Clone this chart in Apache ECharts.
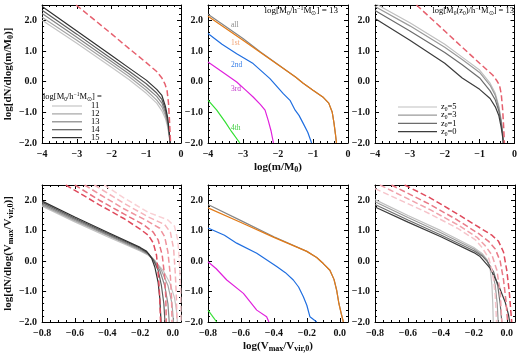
<!DOCTYPE html>
<html>
<head>
<meta charset="utf-8">
<script src="https://cdn.jsdelivr.net/npm/echarts@6/dist/echarts.min.js"></script>
<style>
  html, body { margin: 0; padding: 0; background: #fff; }
  #chart { width: 520px; height: 354px; }
</style>
</head>
<body>
<div id="chart"></div>
<script>
// ---- data ----
// top row: x = log(m/M0), y = log[dN/dlog(m/M0)]
var mfTicksX = [-4, -3, -2, -1, 0];
var vfTicksX = [-0.8, -0.6, -0.4, -0.2, 0.0];
var yTicks = [-2, -1, 0, 1, 2];

// panel 1: host masses log M0 = 11..15
var massNames = ['11', '12', '13', '14', '15'];
var mf11 = [[-4,2.0],[-3,1.25],[-2,0.47],[-1.5,0.07],[-1,-0.38],[-0.7,-0.7],[-0.55,-0.95],[-0.45,-1.2],[-0.38,-1.5],[-0.34,-1.8],[-0.31,-2.0]];
var mf12 = [[-4,2.1],[-3,1.35],[-2,0.57],[-1.5,0.17],[-1,-0.28],[-0.7,-0.6],[-0.55,-0.82],[-0.45,-1.1],[-0.38,-1.42],[-0.34,-1.75],[-0.31,-2.0]];
var mf13 = [[-4,2.22],[-3,1.45],[-2,0.66],[-1.5,0.26],[-1,-0.18],[-0.7,-0.48],[-0.55,-0.7],[-0.45,-1.0],[-0.38,-1.35],[-0.34,-1.7],[-0.31,-2.0]];
var mf14 = [[-4,2.33],[-3,1.55],[-2,0.75],[-1.5,0.35],[-1,-0.07],[-0.7,-0.37],[-0.55,-0.58],[-0.45,-0.9],[-0.38,-1.28],[-0.34,-1.65],[-0.31,-2.0]];
var mf15 = [[-4,2.45],[-3,1.65],[-2,0.85],[-1.5,0.45],[-1,0.05],[-0.7,-0.25],[-0.55,-0.45],[-0.45,-0.8],[-0.38,-1.2],[-0.34,-1.6],[-0.31,-2.0]];
var mfRed = [[-3.02,2.5],[-2,1.56],[-1.73,1.3],[-1,0.62],[-0.7,0.33],[-0.55,0.12],[-0.46,-0.08],[-0.4,-0.3],[-0.36,-0.7],[-0.33,-1.3],[-0.3,-2.0]];

// panel 2: by subhalo order, log M0 = 13
var orderNames = ['all', '1st', '2nd', '3rd', '4th'];
var mfAll = [[-4,2.2],[-3,1.41],[-2.5,0.97],[-2,0.56],[-1.5,0.15],[-1.28,-0.05],[-1,-0.28],[-0.7,-0.52],[-0.55,-0.7],[-0.45,-1.0],[-0.4,-1.35],[-0.36,-1.7],[-0.33,-2.0]];
var mf1st = [[-4,2.13],[-3,1.35],[-2.5,0.95],[-2,0.55],[-1.5,0.15],[-1.28,-0.05],[-1,-0.28],[-0.7,-0.52],[-0.55,-0.7],[-0.45,-1.0],[-0.4,-1.35],[-0.36,-1.7],[-0.33,-2.0]];
var mf2nd = [[-4,1.57],[-3.6,1.22],[-3.18,0.91],[-2.71,0.59],[-2.23,0.1],[-1.85,-0.39],[-1.65,-0.62],[-1.51,-0.93],[-1.4,-1.1],[-1.28,-1.36],[-1.15,-1.65],[-1.04,-2.0]];
var mf3rd = [[-4,0.64],[-3.66,0.37],[-3.18,-0.01],[-2.9,-0.3],[-2.71,-0.5],[-2.5,-0.75],[-2.37,-0.93],[-2.28,-1.26],[-2.2,-1.6],[-2.13,-2.0]];
var mf4th = [[-4,-0.6],[-3.75,-0.93],[-3.51,-1.31],[-3.32,-1.64],[-3.09,-2.0]];

// panel 3: formation redshift z0
var zNames = ['5', '3', '1', '0'];
var mfZ5 = [[-4,2.55],[-3,1.92],[-2,1.22],[-1.5,0.8],[-1,0.38],[-0.7,-0.05],[-0.55,-0.38],[-0.45,-0.8],[-0.38,-1.25],[-0.34,-1.7],[-0.32,-2.0]];
var mfZ3 = [[-4,2.45],[-3,1.82],[-2,1.12],[-1.5,0.72],[-1,0.3],[-0.7,-0.12],[-0.55,-0.45],[-0.45,-0.85],[-0.38,-1.3],[-0.34,-1.7],[-0.32,-2.0]];
var mfZ1 = [[-4,2.32],[-3,1.65],[-2,0.95],[-1.5,0.55],[-1,0.12],[-0.7,-0.3],[-0.55,-0.6],[-0.45,-0.95],[-0.38,-1.35],[-0.34,-1.7],[-0.32,-2.0]];
var mfZ0 = [[-4,2.06],[-3,1.35],[-2,0.6],[-1.5,0.12],[-1,-0.25],[-0.7,-0.55],[-0.55,-0.82],[-0.45,-1.1],[-0.38,-1.5],[-0.34,-1.8],[-0.32,-2.0]];
var mfZRed = [[-2.81,2.5],[-2,1.65],[-1,0.6],[-0.62,0.21],[-0.5,0.02],[-0.43,-0.12],[-0.38,-0.4],[-0.34,-0.9],[-0.31,-1.5],[-0.29,-2.0]];

// bottom row: x = log(Vmax/Vvir,0)
var vf11 = [[-0.8,1.8],[-0.6,1.29],[-0.4,0.8],[-0.2,0.33],[-0.15,0.19],[-0.11,0.0],[-0.06,-0.3],[-0.02,-0.7],[0.01,-1.2],[0.022,-1.6],[0.028,-2.0]];
var vf12 = [[-0.8,1.84],[-0.6,1.33],[-0.4,0.84],[-0.2,0.36],[-0.15,0.21],[-0.11,0.02],[-0.07,-0.3],[-0.03,-0.8],[-0.005,-1.4],[0.004,-2.0]];
var vf13 = [[-0.8,1.88],[-0.6,1.37],[-0.4,0.87],[-0.2,0.39],[-0.15,0.23],[-0.12,0.05],[-0.08,-0.3],[-0.05,-0.8],[-0.03,-1.4],[-0.022,-2.0]];
var vf14 = [[-0.8,1.93],[-0.6,1.41],[-0.4,0.91],[-0.2,0.42],[-0.15,0.25],[-0.12,0.05],[-0.09,-0.3],[-0.07,-0.8],[-0.055,-1.4],[-0.048,-2.0]];
var vf15 = [[-0.8,1.97],[-0.6,1.45],[-0.4,0.95],[-0.2,0.45],[-0.16,0.32],[-0.13,0.1],[-0.11,-0.2],[-0.09,-0.7],[-0.08,-1.2],[-0.072,-2.0]];
var vfRed15 = [[-0.655,2.5],[-0.45,1.85],[-0.3,1.4],[-0.2,1.05],[-0.15,0.85],[-0.12,0.6],[-0.1,0.2],[-0.088,-0.5],[-0.08,-1.2],[-0.075,-2.0]];
var vfRed14 = [[-0.6,2.5],[-0.45,2.0],[-0.3,1.55],[-0.18,1.2],[-0.12,0.95],[-0.09,0.7],[-0.065,0.2],[-0.05,-0.5],[-0.043,-1.2],[-0.04,-2.0]];
var vfRed13 = [[-0.54,2.5],[-0.45,2.2],[-0.3,1.72],[-0.15,1.3],[-0.08,1.08],[-0.05,0.8],[-0.03,0.3],[-0.015,-0.5],[-0.008,-1.2],[-0.005,-2.0]];
var vfRed12 = [[-0.48,2.5],[-0.3,1.9],[-0.15,1.45],[-0.05,1.2],[-0.015,0.95],[0.005,0.4],[0.015,-0.4],[0.022,-1.2],[0.025,-2.0]];
var vfRed11 = [[-0.42,2.5],[-0.3,2.08],[-0.15,1.6],[-0.03,1.35],[0.01,1.15],[0.03,0.7],[0.04,0.0],[0.048,-1.0],[0.05,-2.0]];

var vfAll = [[-0.8,1.86],[-0.6,1.33],[-0.4,0.8],[-0.2,0.32],[-0.14,0.12],[-0.1,-0.08],[-0.06,-0.3],[-0.035,-0.6],[-0.019,-0.95],[-0.005,-1.4],[0.01,-1.75],[0.022,-2.0]];
var vf1st = [[-0.8,1.75],[-0.6,1.27],[-0.4,0.78],[-0.2,0.32],[-0.14,0.12],[-0.1,-0.08],[-0.06,-0.3],[-0.035,-0.6],[-0.019,-0.95],[-0.005,-1.4],[0.01,-1.75],[0.022,-2.0]];
var vf2nd = [[-0.8,1.09],[-0.7,0.85],[-0.626,0.59],[-0.504,0.26],[-0.383,-0.18],[-0.33,-0.38],[-0.282,-0.62],[-0.25,-0.85],[-0.221,-1.17],[-0.2,-1.45],[-0.181,-1.83],[-0.14,-2.0]];
var vf3rd = [[-0.8,-0.02],[-0.75,-0.25],[-0.686,-0.62],[-0.585,-1.06],[-0.504,-1.61],[-0.444,-1.83],[-0.43,-2.0]];
var vf4th = [[-0.8,-1.61],[-0.747,-2.0]];

var vfZ5 = [[-0.8,2.02],[-0.6,1.5],[-0.4,1.0],[-0.2,0.45],[-0.15,0.25],[-0.12,0.05],[-0.1,-0.3],[-0.09,-0.8],[-0.085,-1.4],[-0.082,-2.0]];
var vfZ3 = [[-0.8,1.95],[-0.6,1.43],[-0.4,0.93],[-0.2,0.4],[-0.15,0.2],[-0.12,0.02],[-0.09,-0.3],[-0.07,-0.8],[-0.058,-1.4],[-0.052,-2.0]];
var vfZ1 = [[-0.8,1.86],[-0.6,1.35],[-0.4,0.86],[-0.2,0.34],[-0.15,0.17],[-0.12,0.0],[-0.08,-0.35],[-0.055,-0.8],[-0.04,-1.4],[-0.03,-2.0]];
var vfZ0 = [[-0.8,1.78],[-0.6,1.28],[-0.4,0.8],[-0.2,0.28],[-0.162,0.15],[-0.1,-0.24],[-0.05,-0.79],[-0.01,-1.34],[0.01,-1.75],[0.018,-2.0]];
var vfZRed0 = [[-0.62,2.5],[-0.466,2.08],[-0.3,1.55],[-0.15,1.05],[-0.09,0.85],[-0.05,0.65],[-0.02,0.3],[0.0,-0.3],[0.015,-1.0],[0.03,-2.0]];
var vfZRed1 = [[-0.7,2.5],[-0.466,1.86],[-0.3,1.35],[-0.17,0.9],[-0.11,0.65],[-0.07,0.4],[-0.04,0.0],[-0.02,-0.6],[-0.005,-1.3],[0.005,-2.0]];
var vfZRed3 = [[-0.77,2.5],[-0.466,1.69],[-0.3,1.2],[-0.18,0.78],[-0.13,0.5],[-0.09,0.2],[-0.06,-0.3],[-0.04,-1.0],[-0.03,-2.0]];
var vfZRed5 = [[-0.8,2.38],[-0.466,1.55],[-0.3,1.08],[-0.19,0.7],[-0.15,0.45],[-0.11,0.1],[-0.085,-0.4],[-0.07,-1.1],[-0.062,-2.0]];

// ---- layout / styling ----
var FONT = 'Liberation Serif';
var COL_L = [41, 208, 375];
var ROW_T = [5, 185];
var ROW_H = [138, 137];
var PANEL_W = 140;

var massGrays = ['#c4c4c4', '#a4a4a4', '#858585', '#5c5c5c', '#303030'];
var zGrays = ['#c0c0c0', '#9a9a9a', '#6c6c6c', '#3c3c3c'];
var redsV = ['#f9d0d4', '#f5b3ba', '#ef939d', '#e8707e', '#df4a5c'];
var redsVZ = ['#f6c4ca', '#f0a2ab', '#e97a87', '#df4a5c'];
var RED = '#e6606e';
var orderCols = ['#858585', '#e27a16', '#1f6ee0', '#e021dc', '#33e033'];
var orderText = ['#8a8a8a', '#f2a070', '#3a80e8', '#c030c8', '#40d040'];

function numFmt(d) {
    return function (v) {
        var s = Math.abs(v) < 1e-9 ? (0).toFixed(d) : v.toFixed(d);
        return s.replace('-', '\u2212');
    };
}

function subRich(base, weight) {
    return {
        s: { fontFamily: FONT, fontSize: base - 3, fontWeight: weight || 'normal', lineHeight: 7, verticalAlign: 'bottom', color: '#000' },
        p: { fontFamily: FONT, fontSize: base - 3, fontWeight: weight || 'normal', lineHeight: 7, verticalAlign: 'top', color: '#000' }
    };
}

var grids = [], xAxes = [], yAxes = [], series = [];

function addPanel(row, col, xmin, xmax, xint, xdec, xminor) {
    var gi = grids.length;
    grids.push({ left: COL_L[col], top: ROW_T[row], width: PANEL_W, height: ROW_H[row], containLabel: false });
    var tick = { inside: true, length: 4, lineStyle: { color: '#000', width: 1 } };
    var minor = { show: true, splitNumber: xminor, length: 2, lineStyle: { color: '#000', width: 1 } };
    var line = { show: true, onZero: false, lineStyle: { color: '#000', width: 1 } };
    xAxes.push({
        gridIndex: gi, type: 'value', position: 'bottom', min: xmin, max: xmax, interval: xint,
        axisLine: line, axisTick: tick, minorTick: minor,
        splitLine: { show: false },
        axisLabel: { show: true, margin: 6, fontFamily: FONT, fontSize: 10, fontWeight: 'bold', color: '#111', showMaxLabel: xmax === 0, formatter: numFmt(xdec) }
    });
    xAxes.push({
        gridIndex: gi, type: 'value', position: 'top', min: xmin, max: xmax, interval: xint,
        axisLine: line, axisTick: tick, minorTick: minor,
        splitLine: { show: false }, axisLabel: { show: false }
    });
    var yminor = { show: true, splitNumber: 5, length: 2, lineStyle: { color: '#000', width: 1 } };
    yAxes.push({
        gridIndex: gi, type: 'value', position: 'left', min: -2, max: 2.5, interval: 1,
        axisLine: line, axisTick: tick, minorTick: yminor,
        splitLine: { show: false },
        axisLabel: { show: true, margin: 5, fontFamily: FONT, fontSize: 10, fontWeight: 'bold', color: '#111', showMaxLabel: false, formatter: numFmt(1) }
    });
    yAxes.push({
        gridIndex: gi, type: 'value', position: 'right', min: -2, max: 2.5, interval: 1,
        axisLine: line, axisTick: tick, minorTick: yminor,
        splitLine: { show: false }, axisLabel: { show: false }
    });
    return gi;
}

function addLine(gi, data, color, dashed, width) {
    series.push({
        type: 'line', xAxisIndex: gi * 2, yAxisIndex: gi * 2, data: data,
        showSymbol: false, silent: true, animation: false, clip: true,
        lineStyle: { color: color, width: width || 1.2, type: dashed ? [6, 3] : 'solid' }
    });
}

var p1 = addPanel(0, 0, -4, 0, 1, 0, 5);
var p2 = addPanel(0, 1, -4, 0, 1, 0, 5);
var p3 = addPanel(0, 2, -4, 0, 1, 0, 5);
var p4 = addPanel(1, 0, -0.8, 0.05, 0.2, 1, 4);
var p5 = addPanel(1, 1, -0.8, 0.05, 0.2, 1, 4);
var p6 = addPanel(1, 2, -0.8, 0.05, 0.2, 1, 4);

[mf11, mf12, mf13, mf14, mf15].forEach(function (d, i) { addLine(p1, d, massGrays[i]); });
addLine(p1, mfRed, RED, true, 1.5);

[mfAll, mf1st, mf2nd, mf3rd, mf4th].forEach(function (d, i) { addLine(p2, d, orderCols[i]); });

[mfZ5, mfZ3, mfZ1, mfZ0].forEach(function (d, i) { addLine(p3, d, zGrays[i]); });
addLine(p3, mfZRed, RED, true, 1.5);

[vf11, vf12, vf13, vf14, vf15].forEach(function (d, i) { addLine(p4, d, massGrays[i]); });
[vfRed11, vfRed12, vfRed13, vfRed14, vfRed15].forEach(function (d, i) { addLine(p4, d, redsV[i], true, 1.5); });

[vfAll, vf1st, vf2nd, vf3rd, vf4th].forEach(function (d, i) { addLine(p5, d, orderCols[i]); });

[vfZ5, vfZ3, vfZ1, vfZ0].forEach(function (d, i) { addLine(p6, d, zGrays[i]); });
[vfZRed5, vfZRed3, vfZRed1, vfZRed0].forEach(function (d, i) { addLine(p6, d, redsVZ[i], true, 1.5); });

// axis titles
yAxes[p1 * 2].name = 'log[dN/dlog(m/M{s|0})]';
yAxes[p4 * 2].name = 'log[dN/dlog(V{s|max}/V{s|vir,0})]';
[p1, p4].forEach(function (p) {
    var ax = yAxes[p * 2];
    ax.nameLocation = 'middle';
    ax.nameGap = 27;
    ax.nameRotate = 90;
    ax.nameTextStyle = { fontFamily: FONT, fontSize: 11, fontWeight: 'bold', color: '#111', lineHeight: 14, rich: subRich(11, 'bold') };
});
xAxes[p2 * 2].name = 'log(m/M{s|0})';
xAxes[p5 * 2].name = 'log(V{s|max}/V{s|vir,0})';
[p2, p5].forEach(function (p) {
    var ax = xAxes[p * 2];
    ax.nameLocation = 'middle';
    ax.nameGap = p === p2 ? 14 : 16;
    ax.nameTextStyle = { fontFamily: FONT, fontSize: 11, fontWeight: 'bold', color: '#111', lineHeight: 14, rich: subRich(11, 'bold') };
});

// legends and in-panel labels
var graphics = [];
function gText(x, y, text, color, size, align) {
    graphics.push({
        type: 'text', x: x, y: y, silent: true,
        style: {
            text: text, fill: color, fontFamily: FONT, fontSize: size, lineHeight: 11,
            align: align || 'left', verticalAlign: 'middle', rich: subRich(size)
        }
    });
}
function gLine(x1, x2, y, color) {
    graphics.push({ type: 'line', silent: true, shape: { x1: x1, y1: y, x2: x2, y2: y }, style: { stroke: color, lineWidth: 1.2 } });
}

gText(43, 97, 'log[M{s|0}/h{p|\u22121}M{s|\u2299}] =', '#000', 8.5);
massNames.forEach(function (n, i) {
    var y = 106 + i * 7.9;
    gLine(52, 82, y, massGrays[i]);
    gText(91, y, n, '#000', 8.5);
});

gText(338, 11, 'log[M{s|0}/h{p|\u22121}M{s|\u2299}] = 13', '#000', 9, 'right');
var ordY = [25, 43, 65, 89, 128];
orderNames.forEach(function (n, i) { gText(231, ordY[i], n, orderText[i], 7.5); });

gText(514, 11, 'log[M{s|0}(z{s|0})/h{p|\u22121}M{s|\u2299}] = 13', '#000', 8.5, 'right');
zNames.forEach(function (n, i) {
    var y = 107 + i * 8.2;
    gLine(398, 437, y, zGrays[i]);
    gText(441, y, 'z{s|0}=' + n, '#000', 8.5);
});

var chart = echarts.init(document.getElementById('chart'), null, { renderer: 'canvas' });
chart.setOption({
    animation: false,
    backgroundColor: '#fff',
    grid: grids,
    xAxis: xAxes,
    yAxis: yAxes,
    series: series,
    graphic: graphics
});
</script>
</body>
</html>
